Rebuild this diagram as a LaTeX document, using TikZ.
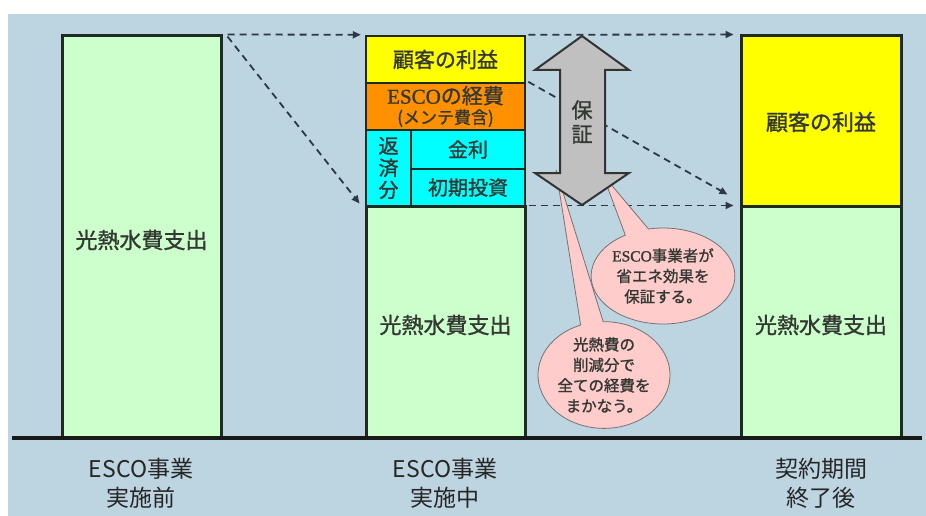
\documentclass[tikz,border=0pt]{standalone}
\usepackage{fontspec}
\setmainfont{Noto Sans CJK JP}
\newfontfamily\jpb{Noto Sans CJK JP}[FakeBold=1.2]
\newfontfamily\latinserif{Liberation Serif}[FakeBold=1.2]
\usetikzlibrary{shapes.callouts,arrows.meta}
\definecolor{bgblue}{HTML}{BDD5E1}
\definecolor{pgreen}{HTML}{CCFFCC}
\definecolor{pyellow}{HTML}{FFFF00}
\definecolor{porange}{HTML}{FF9100}
\definecolor{pcyan}{HTML}{00FFFF}
\definecolor{pgray}{HTML}{C0C0C0}
\definecolor{ppink}{HTML}{FFCCCC}
\definecolor{edge}{HTML}{1E2A22}
\definecolor{txt}{HTML}{333833}
\definecolor{dash}{HTML}{2A3848}
\begin{document}
\begin{tikzpicture}[x=1pt,y=-1pt,
  bar/.style={draw=edge, line width=3pt, text=txt, inner sep=0pt},
  bartext/.style={text=txt, font=\jpb\fontsize{22}{26}\selectfont},
  cell/.style={draw=edge, line width=2.5pt, text=txt, inner sep=0pt, align=center},
  dasharrow/.style={draw=dash, line width=1.8pt, dash pattern=on 7pt off 5pt, -{Triangle[length=8pt,width=7pt]}},
  bubble/.style={ellipse callout, draw=gray!90!black, line width=0.8pt, fill=ppink, text=txt, inner sep=0pt, align=center, callout pointer arc=20, font=\jpb\fontsize{15.5}{20.5}\selectfont},
  lbl/.style={text=black!85, align=center, font=\fontsize{23}{29}\selectfont}
]
\useasboundingbox (0,0) rectangle (926,516);
\fill[white] (0,0) rectangle (926,516);
\fill[bgblue] (8,14) rectangle (926,516);

% column 1
\node[bar, fill=pgreen, minimum width=159, minimum height=402] (c1) at (141.5,237) {};
\node[bartext] (c1t) at (141.5,240) {光熱水費支出};

% column 2
\node[bar, fill=pgreen, minimum width=159, minimum height=232] (c2g) at (445.5,322) {};
\node[bartext] (c2t) at (445.5,325) {光熱水費支出};
\node[cell, fill=pyellow, minimum width=159, minimum height=47, font=\jpb\fontsize{21}{25}\selectfont] (c2y) at (445.5,59.5) {顧客の利益};
\node[cell, fill=porange, minimum width=159, minimum height=47, font=\jpb\fontsize{17}{20}\selectfont] (c2o) at (445.5,106.5)
  {{\fontsize{21}{21}\selectfont{\latinserif ESCO}の経費}\\(メンテ費含)};
\node[cell, fill=pcyan, minimum width=45, minimum height=76, font=\jpb\fontsize{20}{22}\selectfont] (c2r) at (388.5,168) {返\\済\\分};
\node[cell, fill=pcyan, minimum width=114, minimum height=39, font=\jpb\fontsize{20}{24}\selectfont] (c2k) at (468,149.5) {金利};
\node[cell, fill=pcyan, minimum width=114, minimum height=37, font=\jpb\fontsize{20}{24}\selectfont] (c2s) at (468,187.5) {初期投資};

% column 3
\node[bar, fill=pgreen, minimum width=160, minimum height=232] (c3g) at (821,322) {};
\node[bartext] (c3t) at (821,325) {光熱水費支出};
\node[bar, fill=pyellow, minimum width=160, minimum height=170] (c3y) at (821,121) {};
\node[bartext] (c3yt) at (821,122) {顧客の利益};

% baseline
\coordinate (bl) at (12,438);
\coordinate (br) at (922,438);
\draw[line width=4pt, draw=black!90] (bl) -- (br);

% dashed arrows
\draw[dasharrow] ([xshift=5pt]c1.north east) -- ([xshift=-4pt]c2y.north west);
\draw[dasharrow] ([xshift=5pt,yshift=-2pt]c1.north east) -- ([xshift=-5pt,yshift=1pt]c2g.north west);
\draw[dasharrow] ([xshift=2pt]c2y.north east) -- ([xshift=-6pt]c3y.north west);
\draw[dasharrow] ([xshift=2pt]c2o.north east) -- ([xshift=-12pt,yshift=10pt]c3g.north west);
\draw[dasharrow] ([xshift=2pt,yshift=-1pt]c2g.north east) -- ([xshift=-6pt,yshift=-1pt]c3g.north west);

% callouts
\node[bubble, minimum width=142, minimum height=96, callout absolute pointer={(603,175)}] (b1) at (663,276)
  {{\latinserif ESCO}事業者が\\省エネ効果を\\保証する。};
\node[bubble, minimum width=132, minimum height=105, callout absolute pointer={(556,170)}] (b2) at (604,375)
  {光熱費の\\削減分で\\全ての経費を\\まかなう。};

% guarantee double arrow
\draw[fill=pgray, draw=black!80, line width=2pt, line join=miter]
  (582,36) -- (629,70) -- (605,70) -- (605,173) -- (629,173) -- (582,205)
  -- (535,173) -- (560,173) -- (560,70) -- (535,70) -- cycle;
\node[text=txt, align=center, font=\jpb\fontsize{21}{24}\selectfont] (hosho) at (582,122) {保\\証};

% bottom labels
\node[lbl] (l1) at (141,483) {ESCO事業\\実施前};
\node[lbl] (l2) at (445,483) {ESCO事業\\実施中};
\node[lbl] (l3) at (821,483) {契約期間\\終了後};
\end{tikzpicture}
\end{document}
